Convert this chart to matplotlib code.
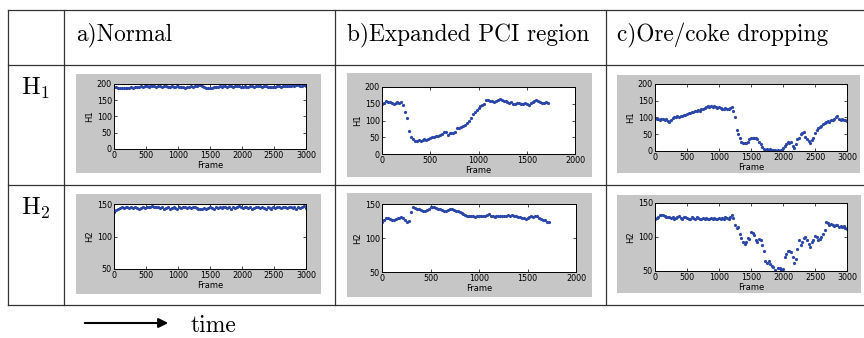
import matplotlib
matplotlib.use("Agg")
import matplotlib.pyplot as plt
import numpy as np
from matplotlib.lines import Line2D
from matplotlib.patches import Rectangle, FancyArrowPatch

plt.rcParams['mathtext.fontset'] = 'cm'

W, H = 864, 338

col_titles = ["a)Normal", "b)Expanded PCI region", "c)Ore/coke dropping"]
row_labels = [r"$\mathrm{H}_1$", r"$\mathrm{H}_2$"]

# a) Normal, one sample every 30 frames, 0..3000
normal_step = 30
normal_h1 = [192, 190, 189, 188, 189, 188, 187, 189, 188, 190, 189,
             191, 190, 192, 193, 191, 194, 193, 192, 194, 195,
             193, 192, 194, 193, 191, 193, 194, 192, 191, 193,
             192, 191, 193, 192, 190, 191, 189, 190, 192, 193,
             192, 193, 194, 196, 197, 194, 190, 188, 187, 188,
             189, 190, 192, 191, 193, 192, 194, 193, 192, 194,
             193, 192, 194, 195, 193, 191, 192, 193, 192, 191,
             193, 194, 192, 193, 195, 194, 192, 193, 194, 192,
             191, 190, 192, 191, 193, 194, 192, 193, 194, 193,
             194, 195, 196, 195, 197, 196, 195, 194, 196, 195]
normal_h2 = [138, 141, 143, 144, 145, 144, 145, 146, 144, 145, 144,
             145, 144, 143, 144, 145, 144, 145, 146, 145, 147,
             146, 145, 146, 144, 145, 143, 144, 145, 143, 144,
             145, 144, 143, 145, 144, 145, 146, 144, 145, 144,
             145, 146, 144, 143, 142, 143, 144, 143, 144, 145,
             144, 143, 145, 144, 145, 144, 146, 145, 144, 145,
             143, 145, 144, 146, 147, 145, 144, 145, 146, 144,
             145, 143, 144, 145, 146, 144, 145, 144, 143, 145,
             144, 142, 145, 144, 146, 145, 144, 145, 146, 144,
             145, 146, 144, 145, 143, 145, 144, 146, 147, 144]

# b) Expanded PCI region, one sample every 20 frames, 0..1720
pci_step = 20
pci_h1 = [150, 153, 157, 155, 154, 152, 150, 153, 155, 152, 154,
          145, 124, 106, 70, 52, 44, 40, 38, 41, 40,
          42, 44, 43, 46, 48, 50, 52, 54, 55, 57,
          60, 65, 67, 56, 62, 64, 62, 66, 78, 79,
          80, 84, 86, 92, 100, 108, 118, 125, 132, 138,
          142, 145, 150, 160, 160, 157, 158, 155, 158, 160,
          163, 160, 158, 157, 156, 153, 155, 150, 148, 153,
          152, 150, 148, 151, 149, 147, 152, 155, 158, 162,
          158, 155, 153, 151, 154, 153]
pci_h2 = [123, 127, 130, 129, 128, 127, 126, 128, 129, 130, 131,
          130, 126, 124, 125, 138, 145, 144, 142, 143, 141,
          140, 139, 141, 143, 145, 146, 145, 144, 143, 142,
          141, 140, 139, 141, 142, 143, 141, 140, 139, 138,
          137, 135, 134, 133, 132, 133, 132, 131, 132, 132,
          133, 132, 133, 134, 136, 133, 132, 131, 132, 133,
          132, 133, 132, 133, 134, 133, 134, 133, 132, 131,
          131, 130, 129, 128, 129, 131, 132, 131, 132, 133,
          130, 128, 127, 126, 124, 123]

# c) Ore/coke dropping, one sample every 25 frames, 0..3000
drop_step = 25
drop_h1 = [98, 97, 95, 93, 95, 96, 94, 97, 90, 88, 92,
           98, 100, 102, 104, 102, 105, 103, 106, 108, 110,
           112, 113, 115, 117, 120, 118, 122, 120, 124, 126,
           128, 131, 133, 130, 134, 131, 135, 130, 128, 131,
           127, 126, 125, 127, 124, 126, 128, 131, 118, 100,
           62, 52, 40, 28, 24, 23, 25, 28, 35, 38,
           40, 38, 39, 36, 28, 20, 12, 7, 4, 5,
           3, 6, 4, 2, 3, 1, 2, 1, 3, 8,
           15, 22, 28, 25, 27, 15, 10, 20, 35, 40,
           50, 55, 58, 42, 35, 30, 25, 32, 40, 55,
           62, 68, 72, 75, 80, 85, 88, 90, 88, 92,
           93, 96, 100, 104, 97, 93, 95, 92, 93, 91]
drop_h2 = [127, 128, 130, 132, 133, 132, 131, 130, 129, 130, 128,
           129, 127, 128, 130, 131, 128, 127, 129, 130, 128,
           126, 127, 129, 128, 127, 129, 128, 126, 127, 128,
           127, 128, 127, 126, 128, 127, 128, 127, 126, 128,
           127, 128, 127, 129, 128, 127, 130, 132, 128, 118,
           113, 115, 105, 98, 92, 90, 93, 98, 97, 107,
           106, 103, 95, 92, 97, 96, 88, 80, 65, 62,
           64, 60, 57, 56, 52, 48, 54, 55, 52, 53,
           70, 75, 80, 80, 78, 70, 62, 68, 82, 95,
           88, 92, 98, 100, 96, 90, 86, 92, 95, 102,
           100, 95, 97, 100, 105, 110, 122, 121, 118, 119,
           117, 116, 118, 117, 115, 116, 114, 116, 113, 112]

series = [
    [(normal_step, normal_h1), (pci_step, pci_h1), (drop_step, drop_h1)],
    [(normal_step, normal_h2), (pci_step, pci_h2), (drop_step, drop_h2)],
]
xmax = [3000, 2000, 3000]
ylims = [(0, 200), (50, 150)]
yticks = [[0, 50, 100, 150, 200], [50, 100, 150]]
ylabels = ["H1", "H2"]

# pixel boxes (x0, y0, x1, y1), y measured from the top
gray_boxes = [
    [(76, 74, 321, 173), (347, 73, 592, 177), (617, 75, 860, 173)],
    [(76, 194, 321, 294), (347, 193, 592, 297), (617, 195, 861, 293)],
]
ax_boxes = [
    [(114, 84, 306, 149), (382, 87, 575, 154), (655, 84, 847, 151)],
    [(114, 204, 306, 269), (382, 204, 576, 272), (655, 203, 847, 271)],
]


def fx(x):
    return x / W


def fy(y):
    return 1 - y / H


fig = plt.figure(figsize=(W / 100, H / 100), dpi=100)

# table grid
line_kw = dict(color="#333333", lw=0.9, transform=fig.transFigure)
for y in [10, 65, 185, 305]:
    fig.add_artist(Line2D([fx(8), fx(864)], [fy(y), fy(y)], **line_kw))
for x in [8, 64, 335, 606]:
    fig.add_artist(Line2D([fx(x), fx(x)], [fy(10), fy(305)], **line_kw))

for j, t in enumerate(col_titles):
    fig.text(fx([76, 347, 617][j]), fy(35), t, family="cmr10", fontsize=16.8,
             va="center", ha="left")
for i, t in enumerate(row_labels):
    fig.text(fx(21), fy([88, 208][i]), t, fontsize=18, va="center", ha="left")

tick_font = dict(family=["Liberation Sans Narrow", "DejaVu Sans"], size=5.8)

for i in range(2):
    for j in range(3):
        gx0, gy0, gx1, gy1 = gray_boxes[i][j]
        fig.add_artist(Rectangle((fx(gx0), fy(gy1)), fx(gx1 - gx0), (gy1 - gy0) / H,
                                 transform=fig.transFigure, facecolor="#c6c6c6",
                                 edgecolor="none", zorder=0))
        x0, y0, x1, y1 = ax_boxes[i][j]
        ax = fig.add_axes([fx(x0), fy(y1), fx(x1 - x0), (y1 - y0) / H])
        step, vals = series[i][j]
        frames = np.arange(len(vals)) * step
        ax.plot(frames, vals, linestyle="none", marker="o", markersize=2.3,
                markeredgewidth=0, color="#2a46a8")
        ax.set_xlim(0, xmax[j])
        ax.set_ylim(*ylims[i])
        ax.set_xticks(np.arange(0, xmax[j] + 1, 500))
        ax.set_yticks(yticks[i])
        ax.tick_params(direction="in", length=2, width=0.5, pad=1.5,
                       top=True, right=True)
        for lab in ax.get_xticklabels() + ax.get_yticklabels():
            lab.set_fontfamily(tick_font["family"])
            lab.set_fontsize(tick_font["size"])
        ax.set_xlabel("Frame", fontsize=6, labelpad=1)
        ax.set_ylabel(ylabels[i], fontsize=6, labelpad=2)
        for s in ax.spines.values():
            s.set_linewidth(0.7)

# time arrow
fig.add_artist(FancyArrowPatch((fx(82), fy(323)), (fx(171), fy(323)),
                               transform=fig.transFigure, arrowstyle="-|>",
                               mutation_scale=14, lw=1.5, color="black"))
fig.text(fx(191), fy(326), "time", family="cmr10", fontsize=17, va="center", ha="left")

fig.savefig("out.png", dpi=100)
